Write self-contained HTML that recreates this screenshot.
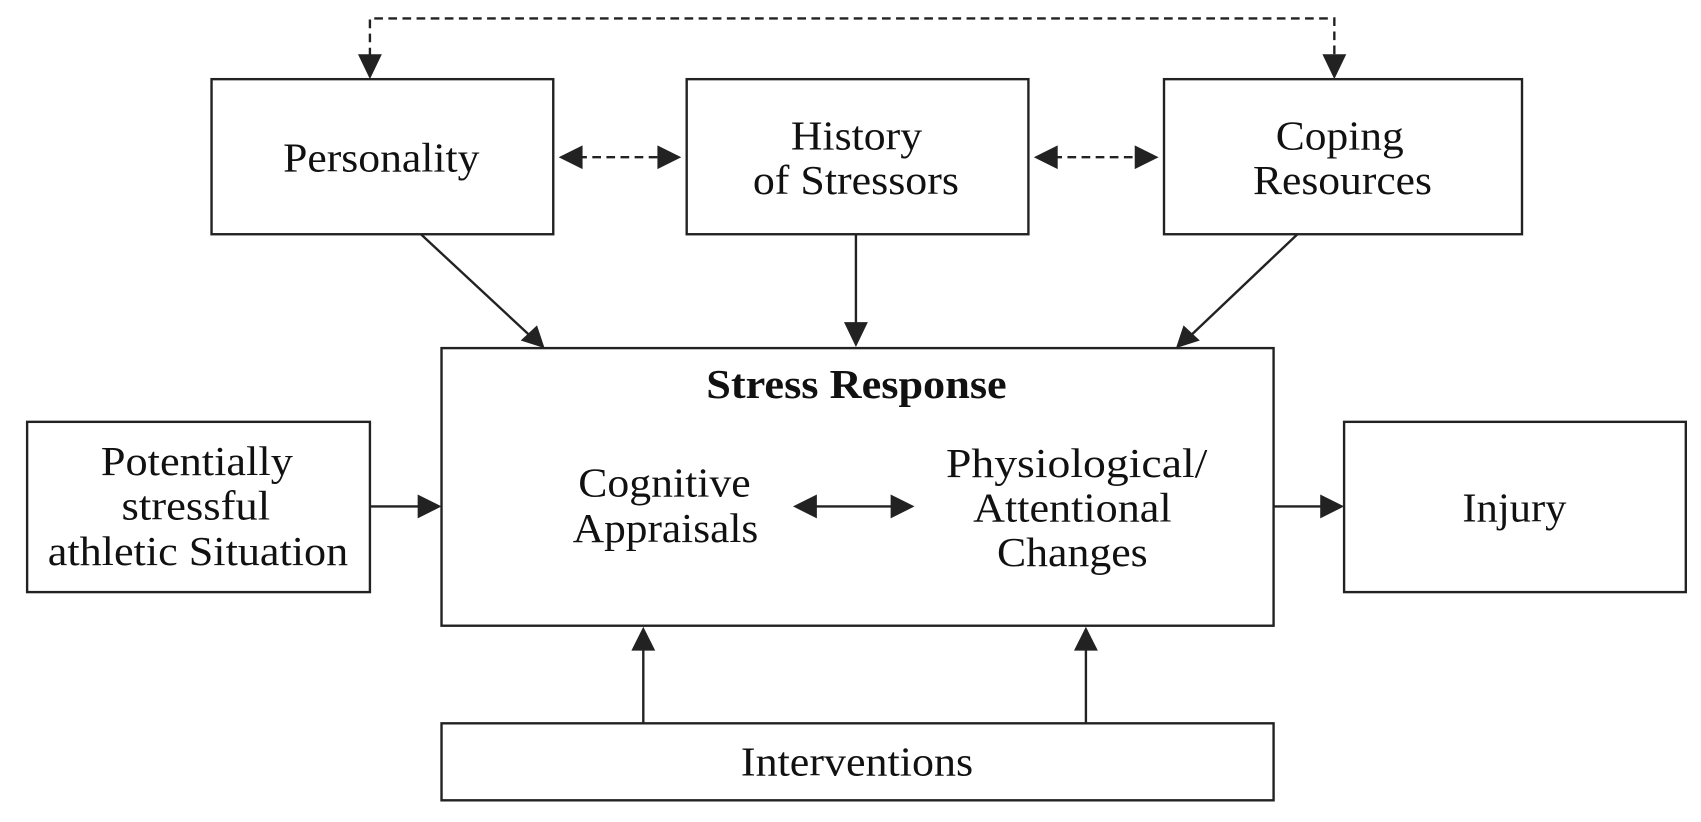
<!DOCTYPE html>
<html><head><style>html,body{margin:0;padding:0;background:#fff}svg{display:block}</style></head>
<body>
<svg width="1701" height="822" viewBox="0 0 1568 758" preserveAspectRatio="none" xmlns="http://www.w3.org/2000/svg">
<g fill="none" stroke="#222" stroke-width="2.2">
<rect x="195" y="73" width="315" height="143"/>
<rect x="633" y="73" width="315" height="143"/>
<rect x="1073" y="73" width="330" height="143"/>
<rect x="407" y="321" width="767" height="256"/>
<rect x="25" y="389" width="316" height="157"/>
<rect x="1239" y="389" width="315" height="157"/>
<rect x="407" y="667" width="767" height="71"/>
<path d="M341 52 V17 H1230 V52" stroke-dasharray="8,5"/>
<path d="M533 145 H610" stroke-dasharray="8,5"/>
<path d="M971 145 H1050" stroke-dasharray="8,5"/>
<path d="M388 216 L488 309"/>
<path d="M789 216 V300"/>
<path d="M1196 216 L1098 309"/>
<path d="M341 467 H390"/>
<path d="M1174 467 H1222"/>
<path d="M750 467 H824"/>
<path d="M593 667 V598"/>
<path d="M1001 667 V598"/>
</g>
<g fill="#222">
<polygon points="330,50 352,50 341,73"/>
<polygon points="1219,50 1241,50 1230,73"/>
<polygon points="515,145 537,134 537,156"/>
<polygon points="628,145 606,134 606,156"/>
<polygon points="953,145 975,134 975,156"/>
<polygon points="1068,145 1046,134 1046,156"/>
<polygon points="502,321 480,314 495,300"/>
<polygon points="789,320 778,297 800,297"/>
<polygon points="1084,321 1091,300 1106,314"/>
<polygon points="407,467 385,456 385,478"/>
<polygon points="1239,467 1217,456 1217,478"/>
<polygon points="731,467 753,456 753,478"/>
<polygon points="843,467 821,456 821,478"/>
<polygon points="593,578 582,600 604,600"/>
<polygon points="1001,578 990,600 1012,600"/>
</g>
<g font-family="Liberation Serif, serif" font-size="38" fill="#111">
<text x="261" y="158" textLength="181" lengthAdjust="spacingAndGlyphs">Personality</text>
<text x="729" y="138" textLength="121" lengthAdjust="spacingAndGlyphs">History</text>
<text x="694" y="179" textLength="190" lengthAdjust="spacingAndGlyphs">of Stressors</text>
<text x="1176" y="138" textLength="118" lengthAdjust="spacingAndGlyphs">Coping</text>
<text x="1155" y="179" textLength="165" lengthAdjust="spacingAndGlyphs">Resources</text>
<text x="93" y="438" textLength="177" lengthAdjust="spacingAndGlyphs">Potentially</text>
<text x="112" y="479" textLength="137" lengthAdjust="spacingAndGlyphs">stressful</text>
<text x="44" y="521" textLength="277" lengthAdjust="spacingAndGlyphs">athletic Situation</text>
<text x="651" y="367" textLength="277" lengthAdjust="spacingAndGlyphs" font-weight="bold">Stress Response</text>
<text x="533" y="458" textLength="159" lengthAdjust="spacingAndGlyphs">Cognitive</text>
<text x="528" y="500" textLength="171" lengthAdjust="spacingAndGlyphs">Appraisals</text>
<text x="872" y="440" textLength="241" lengthAdjust="spacingAndGlyphs">Physiological/</text>
<text x="897" y="481" textLength="183" lengthAdjust="spacingAndGlyphs">Attentional</text>
<text x="919" y="522" textLength="139" lengthAdjust="spacingAndGlyphs">Changes</text>
<text x="1348" y="481" textLength="96" lengthAdjust="spacingAndGlyphs">Injury</text>
<text x="683" y="715" textLength="214" lengthAdjust="spacingAndGlyphs">Interventions</text>
</g>
</svg>
</body></html>
